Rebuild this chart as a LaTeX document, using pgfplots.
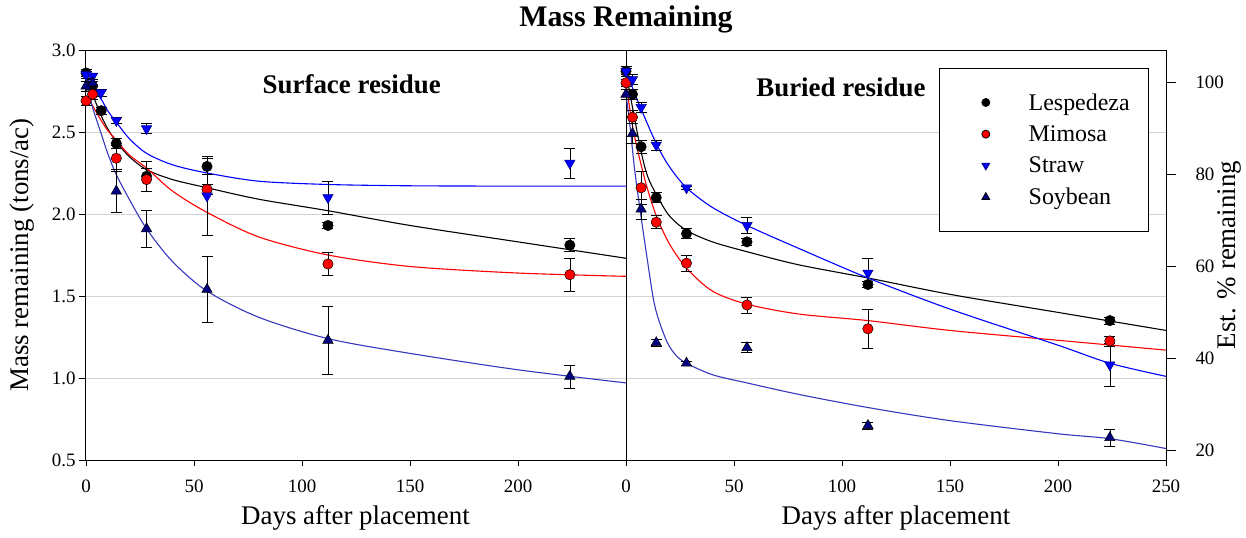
\documentclass[border=0pt]{standalone}
\usepackage{fontspec}
\setmainfont{Liberation Serif}
\usepackage{pgfplots}
\pgfplotsset{compat=1.18}
\definecolor{soyfill}{RGB}{0,0,128}
\definecolor{soyline}{RGB}{55,55,190}
\definecolor{gridgray}{RGB}{212,212,212}
\pgfplotsset{
 panel/.style={
   scale only axis, height=410bp, ymin=0.5, ymax=3.0, clip=false,
   axis line style={line width=0.8bp},
   every tick/.style={black, line width=0.8bp},
   major tick length=6bp, tick align=outside,
   xtick pos=bottom, ytick pos=left,
   ymajorgrids, grid style={gridgray, line width=0.7bp},
   ytick={0.5,1,1.5,2,2.5,3},
   tick label style={font=\fontsize{19}{19}\selectfont},
   xticklabel style={yshift=-10bp},
   /pgf/number format/assume math mode=true,
   yticklabel style={/pgf/number format/.cd, fixed, fixed zerofill, precision=1},
   xlabel={Days after placement},
   every axis x label/.style={at={(axis description cs:0.5,-0.1415)}, anchor=center, font=\fontsize{27}{27}\selectfont},
 },
 pts/.style={only marks,
   error bars/y dir=both, error bars/y explicit,
   error bars/error bar style={black, line width=0.6bp},
   error bars/error mark options={rotate=90, black, mark size=5.5bp, line width=0.6bp}},
 lesp/.style={mark=*, mark size=5.2bp, mark options={draw=black, fill=black, line width=0.5bp}},
 mim/.style={mark=*, mark size=5.2bp, mark options={draw=black, fill=red, line width=0.5bp}},
 straw/.style={mark=triangle*, mark size=6bp, mark options={rotate=180, draw=black!50!blue, fill=blue, line width=0.5bp}},
 soy/.style={mark=triangle*, mark size=6bp, mark options={draw=black, fill=soyfill, line width=0.5bp}},
 crv/.style={smooth, no marks, line width=1.1bp},
}
\begin{document}
\begin{tikzpicture}
\useasboundingbox (-85bp,-78bp) rectangle (1161bp,460bp);
% ---------------- Surface residue ----------------
\begin{axis}[panel, at={(0bp,0bp)}, anchor=south west, width=541bp,
  xmin=-0.5, xmax=250, xtick={0,50,100,150,200},
  ylabel={Mass remaining (tons/ac)},
  every axis y label/.style={at={(axis description cs:-0.1165,0.5)}, rotate=90, anchor=center, font=\fontsize{27}{27}\selectfont}]
\addplot[crv, black] coordinates {(0,2.85)(3,2.73)(7,2.60)(10,2.52)(14,2.44)(20,2.35)(28,2.27)(40,2.21)(56,2.16)(80,2.09)(112,2.02)(150,1.93)(200,1.83)(250,1.73)};
\addplot[crv, red] coordinates {(0,2.72)(3,2.66)(7,2.57)(10,2.51)(14,2.45)(20,2.36)(28,2.28)(40,2.14)(56,2.01)(80,1.86)(112,1.75)(150,1.68)(200,1.64)(250,1.62)};
\addplot[crv, blue] coordinates {(0,2.85)(3,2.77)(7,2.70)(10,2.63)(14,2.56)(20,2.46)(28,2.37)(40,2.30)(56,2.25)(80,2.20)(112,2.18)(150,2.172)(200,2.17)(250,2.17)};
\addplot[crv, soyline] coordinates {(0,2.80)(3,2.65)(7,2.49)(10,2.37)(14,2.24)(20,2.09)(28,1.91)(40,1.71)(56,1.53)(80,1.37)(112,1.24)(150,1.15)(200,1.05)(250,0.97)};
\addplot[pts, lesp] table[x=d, y=m, y error=e] {
d m e
0 2.86 0.02
3 2.78 0.03
7 2.63 0.02
14 2.43 0.03
28 2.23 0.09
56 2.29 0.05
112 1.93 0.02
224 1.81 0.04
};
\addplot[pts, mim] table[x=d, y=m, y error=e] {
d m e
0 2.69 0.03
3 2.73 0.03
14 2.34 0.08
28 2.21 0.07
56 2.15 0.03
112 1.695 0.07
224 1.63 0.10
};
\addplot[pts, straw] table[x=d, y=m, y error=e] {
d m e
0 2.85 0.02
3 2.84 0.02
7 2.74 0.02
14 2.57 0.02
28 2.52 0.03
56 2.11 0.24
112 2.10 0.10
224 2.31 0.09
};
\addplot[pts, soy] table[x=d, y=m, y error=e] {
d m e
0 2.78 0.03
3 2.80 0.02
14 2.14 0.13
28 1.91 0.115
56 1.54 0.20
112 1.23 0.21
224 1.01 0.07
};
\node[font=\fontsize{27}{27}\selectfont\bfseries] at (axis cs:123,2.793) {Surface residue};
\end{axis}
% ---------------- Buried residue ----------------
\begin{axis}[panel, at={(541bp,0bp)}, anchor=south west, width=540bp,
  xmin=0, xmax=250, xtick={0,50,100,150,200,250},
  yticklabels={}, ytick style={draw=none},
  legend image code/.code={\path (-21bp,0bp) (0.6cm,0bp); \draw[#1] plot coordinates {(0.3cm,0cm)};},
  legend style={at={(0.9685,0.956)}, anchor=north east, draw=black, line width=0.8bp, fill=white,
    font=\fontsize{24}{24}\selectfont, inner xsep=17bp, inner ysep=23bp, row sep=10bp, column sep=32bp},
  legend cell align=left]
\addplot[crv, black, forget plot] coordinates {(0,2.87)(3,2.65)(7,2.38)(10,2.23)(14,2.12)(20,1.99)(28,1.90)(40,1.83)(56,1.77)(80,1.69)(112,1.61)(150,1.51)(200,1.40)(250,1.29)};
\addplot[crv, red, forget plot] coordinates {(0,2.80)(2,2.62)(4,2.47)(7,2.30)(10,2.15)(14,1.99)(20,1.82)(28,1.67)(40,1.53)(56,1.45)(80,1.39)(112,1.35)(150,1.29)(200,1.23)(250,1.17)};
\addplot[crv, blue, forget plot] coordinates {(0,2.87)(3,2.77)(7,2.64)(14,2.43)(20,2.29)(28,2.16)(40,2.04)(56,1.93)(80,1.79)(112,1.61)(150,1.42)(200,1.20)(224,1.09)(250,1.01)};
\addplot[crv, soyline, forget plot] coordinates {(0,2.73)(2,2.52)(4,2.27)(7,1.98)(10,1.71)(12.7,1.48)(15,1.36)(19,1.22)(23,1.14)(28,1.09)(40,1.02)(56,0.97)(80,0.90)(112,0.82)(150,0.74)(200,0.66)(224,0.63)(250,0.57)};
\addplot[pts, lesp, forget plot] table[x=d, y=m, y error=e] {
d m e
0 2.87 0.02
3 2.73 0.03
7 2.41 0.04
14 2.10 0.03
28 1.88 0.03
56 1.83 0.02
112 1.57 0.02
224 1.35 0.02
};
\addplot[pts, mim, forget plot] table[x=d, y=m, y error=e] {
d m e
0 2.80 0.02
3 2.59 0.04
7 2.16 0.10
14 1.95 0.04
28 1.70 0.05
56 1.445 0.05
112 1.30 0.12
224 1.226 0.03
};
\addplot[pts, straw, forget plot] table[x=d, y=m, y error=e] {
d m e
0 2.87 0.03
3 2.82 0.03
7 2.65 0.03
14 2.42 0.03
28 2.16 0.01
56 1.93 0.05
112 1.64 0.09
224 1.08 0.13
};
\addplot[pts, soy, forget plot] table[x=d, y=m, y error=e] {
d m e
0 2.73 0.03
3 2.49 0.06
7 2.03 0.06
14 1.215 0.02
28 1.09 0.01
56 1.185 0.03
112 0.71 0.02
224 0.636 0.05
};
\addlegendimage{only marks, mark=*, mark size=4bp, draw=black, fill=black}
\addlegendentry{Lespedeza}
\addlegendimage{only marks, mark=*, mark size=4bp, draw=black, fill=red}
\addlegendentry{Mimosa}
\addlegendimage{only marks, mark=triangle*, mark size=4.5bp, mark options={rotate=180}, draw=black!50!blue, fill=blue}
\addlegendentry{Straw}
\addlegendimage{only marks, mark=triangle*, mark size=4.5bp, draw=black, fill=soyfill}
\addlegendentry{Soybean}
\node[font=\fontsize{27}{27}\selectfont\bfseries] at (axis cs:99.5,2.774) {Buried residue};
\node[font=\fontsize{30}{30}\selectfont\bfseries] at (rel axis cs:0,1.074) {Mass Remaining};
\end{axis}
% ---------------- % axis ----------------
\begin{axis}[scale only axis, at={(541bp,0bp)}, anchor=south west, width=540bp, height=410bp,
  xmin=0, xmax=250, ymin=17.857, ymax=107.143,
  axis x line=none, axis y line*=right,
  axis line style={line width=0.8bp},
  every tick/.style={black, line width=0.8bp},
  major tick length=10bp, tick align=outside,
  ytick={20,40,60,80,100},
  tick label style={font=\fontsize{19}{19}\selectfont},
  yticklabel style={anchor=west, xshift=16bp},
  /pgf/number format/assume math mode=true,
  ylabel={Est. \% remaining},
  every axis y label/.style={at={(axis description cs:1.1167,0.5)}, rotate=90, anchor=center, font=\fontsize{27}{27}\selectfont}]
\addplot[draw=none, forget plot] coordinates {(0,50)(250,50)};
\end{axis}
\end{tikzpicture}
\end{document}
